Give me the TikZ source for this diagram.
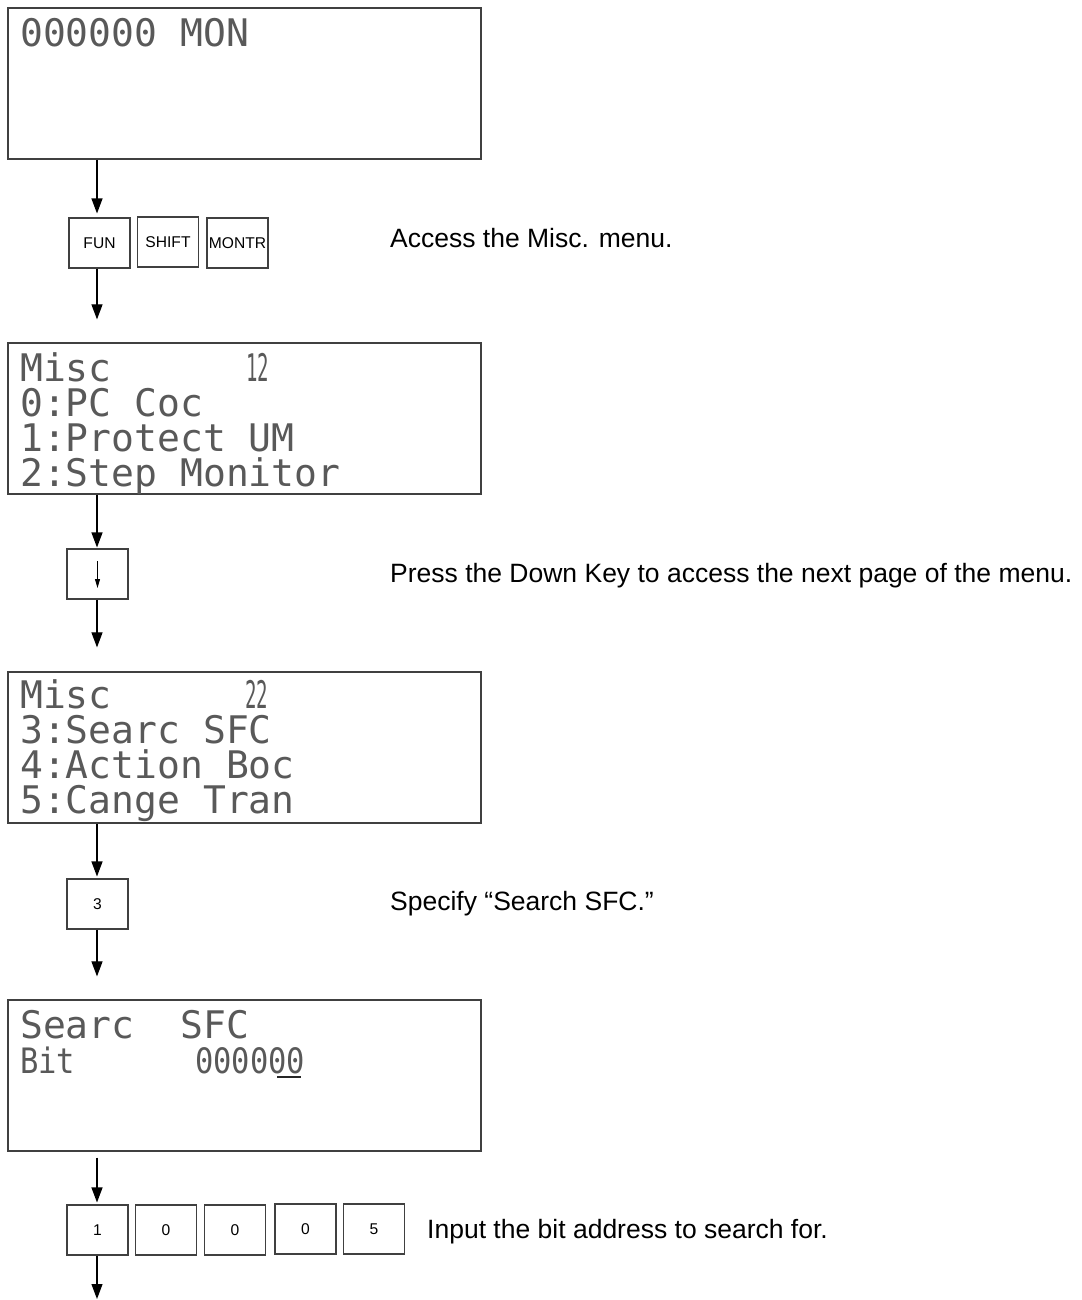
\documentclass[tikz,border=0pt]{standalone}
\usepackage{fontspec}
\setmainfont{Liberation Sans}
\newfontfamily\lcdfont{DejaVu Sans Mono}
\usetikzlibrary{arrows.meta}
\begin{document}
\begin{tikzpicture}[x=1pt,y=-1pt,
  lcd/.style={draw=black!75, line width=1.2pt, minimum width=473pt, minimum height=151pt, inner sep=0pt},
  keybox/.style={draw=black!75, line width=1.1pt, minimum width=61pt, minimum height=50pt, inner sep=0pt, font=\fontsize{15.6}{18}\selectfont},
  lcdtxt/.style={anchor=base west, inner sep=0pt, text=black!65, font=\lcdfont\fontsize{38}{40}\selectfont},
  lcdsmall/.style={anchor=base west, inner sep=0pt, text=black!65, font=\lcdfont\fontsize{35}{38}\selectfont},
  note/.style={anchor=base west, inner sep=0pt, font=\fontsize{26.5}{30}\selectfont},
  flow/.style={line width=1.1pt, -{Triangle[width=11pt,length=15pt]}},
]
\useasboundingbox (0,0) rectangle (1081,1300);
\coordinate (col) at (97,0);

% LCD screens
\node[lcd] (lcd1) at (244.5,83.5) {};
\node[lcd] (lcd2) at (244.5,418.5) {};
\node[lcd] (lcd3) at (244.5,747.5) {};
\node[lcd] (lcd4) at (244.5,1075.5) {};

% LCD texts
\node[lcdtxt] (t1) at (20,47) {000000 MON};

\node[lcdtxt] (t2a) at (20,381) {Misc};
\node[lcdtxt] (t2p) at (246,381) {\scalebox{0.5}[1]{12}};
\node[lcdtxt] (t2b) at (20,416) {0:PC Coc};
\node[lcdtxt] (t2c) at (20,451) {1:Protect UM};
\node[lcdtxt] (t2d) at (20,486) {2:Step Monitor};

\node[lcdtxt] (t3a) at (20,708) {Misc};
\node[lcdtxt] (t3p) at (245,708) {\scalebox{0.5}[1]{22}};
\node[lcdtxt] (t3b) at (20,743) {3:Searc SFC};
\node[lcdtxt] (t3c) at (20,778) {4:Action Boc};
\node[lcdtxt] (t3d) at (20,813) {5:Cange Tran};

\node[lcdtxt] (t4a) at (20,1038) {Searc~~SFC};
\node[lcdsmall] (t4b) at (20,1073) {\scalebox{0.87}[1]{Bit}};
\node[lcdsmall] (t4c) at (195,1073) {\scalebox{0.87}[1]{000000}};
\draw[line width=2pt, black!85] (277,1077) -- (301,1077);

% keys
\node[keybox] (fun) at (99.5,243) {FUN};
\node[keybox] (shift) at (168,242) {SHIFT};
\node[keybox] (montr) at (237.5,243) {MONTR};
\node[keybox] (down) at (97.5,574) {};
\draw[line width=0.9pt, -{Triangle[width=5pt,length=9pt]}] (down.center) ++(0,-13) -- ++(0,27);
\node[keybox] (k3) at (97.5,904) {3};
\node[keybox] (d1) at (97.5,1230) {1};
\node[keybox] (d2) at (166,1230) {0};
\node[keybox] (d3) at (235,1230) {0};
\node[keybox] (d4) at (305.5,1229) {0};
\node[keybox] (d5) at (374,1229) {5};

% notes
\node[note] (n1) at (390,247) {Access the Misc. menu.};
\node[note] (n2) at (390,582) {Press the Down Key to access the next page of the menu.};
\node[note] (n3) at (390,910) {Specify “Search SFC.”};
\node[note] (n4) at (427,1238) {Input the bit address to search for.};

% flow arrows
\draw[flow, shorten >=4pt] (lcd1.south -| col) -- (fun.north -| col);
\draw[flow, shorten >=23pt] (fun.south -| col) -- (lcd2.north -| col);
\draw[flow, shorten >=1pt] (lcd2.south -| col) -- (down.north -| col);
\draw[flow, shorten >=24pt] (down.south -| col) -- (lcd3.north -| col);
\draw[flow, shorten >=2pt] (lcd3.south -| col) -- (k3.north -| col);
\draw[flow, shorten >=23pt] (k3.south -| col) -- (lcd4.north -| col);
\draw[flow, shorten <=6pt, shorten >=2pt] (lcd4.south -| col) -- (d1.north -| col);
\coordinate (end) at (97,1299);
\draw[flow] (d1.south -| col) -- (end);
\end{tikzpicture}
\end{document}
